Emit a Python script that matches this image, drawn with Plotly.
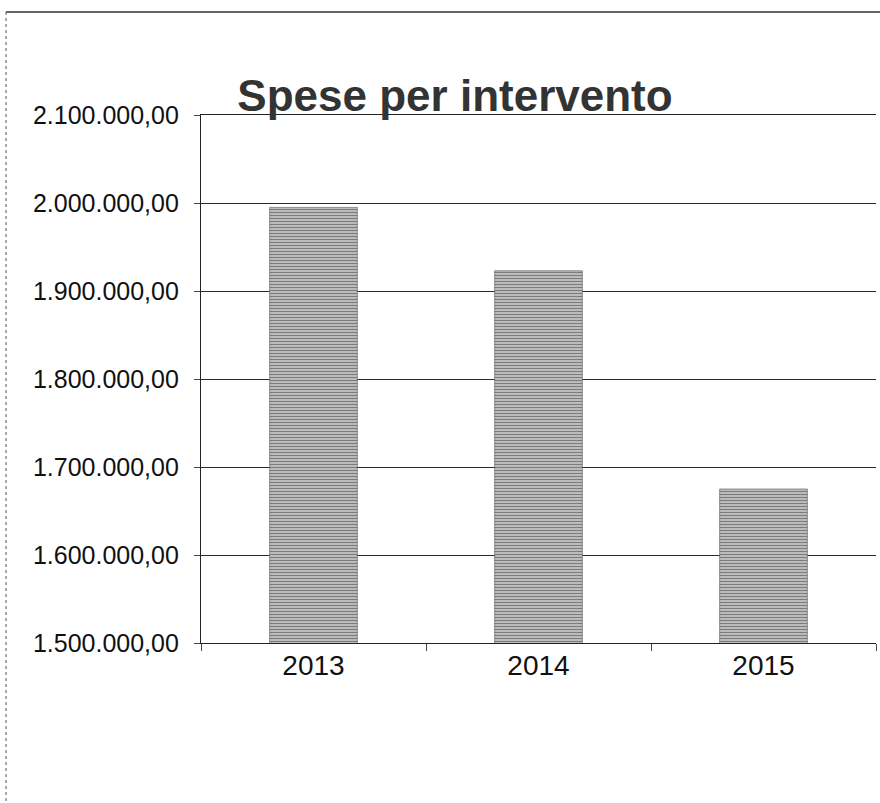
import plotly.graph_objects as go

years = ["2013", "2014", "2015"]
spese = [1995000, 1923000, 1675000]

W, H = 880, 803
L, R, T, B = 201, 4, 115, 160
pw, ph = W - L - R, H - T - B

def px(x):
    return (x - L) / pw

def py(y):
    return (H - B - y) / ph

fig = go.Figure()
fig.add_trace(go.Bar(
    x=years, y=spese,
    marker=dict(
        color="#b0b0b0",
        line=dict(color="#555555", width=0.6),
        pattern=dict(shape="-", fgcolor="#2a2a2a", bgcolor="#cfcfcf", size=3, solidity=0.5),
    ),
    width=0.39,
))

font = "Liberation Sans, Arial, sans-serif"
fig.update_layout(
    width=W, height=H,
    margin=dict(l=L, r=R, t=T, b=B),
    paper_bgcolor="white", plot_bgcolor="white",
    separators=",.",
    showlegend=False,
    title=dict(
        text="<b>Spese per intervento</b>",
        x=455 / W, xanchor="center",
        y=1 - 96 / H, yanchor="middle",
        font=dict(family=font, size=44, color="#333333"),
    ),
    xaxis=dict(
        type="category", range=[-0.5, 2.5],
        showline=True, linecolor="#222", linewidth=1.2, mirror=True,
        ticks="outside", ticklen=7, tickcolor="#444",
        tickson="boundaries",
        showgrid=False,
        tickfont=dict(family=font, size=28, color="#111"),
        ticklabelstandoff=-3,
    ),
    yaxis=dict(
        range=[1500000, 2100000], dtick=100000,
        tickformat=",.2f",
        showline=True, linecolor="#222", linewidth=1.2,
        ticks="outside", ticklen=6, tickcolor="#444",
        showgrid=True, gridcolor="#2a2a2a", gridwidth=1.2,
        tickfont=dict(family=font, size=25, color="#111"),
        ticklabelstandoff=10,
    ),
    shapes=[
        dict(type="line", xref="paper", yref="paper", x0=px(6), x1=px(880), y0=py(12), y1=py(12),
             line=dict(color="#333", width=1.5)),
        dict(type="line", xref="paper", yref="paper", x0=px(6), x1=px(6), y0=py(12), y1=py(803),
             line=dict(color="#555", width=1, dash="dot")),
    ],
)

fig.write_html("out.html")
